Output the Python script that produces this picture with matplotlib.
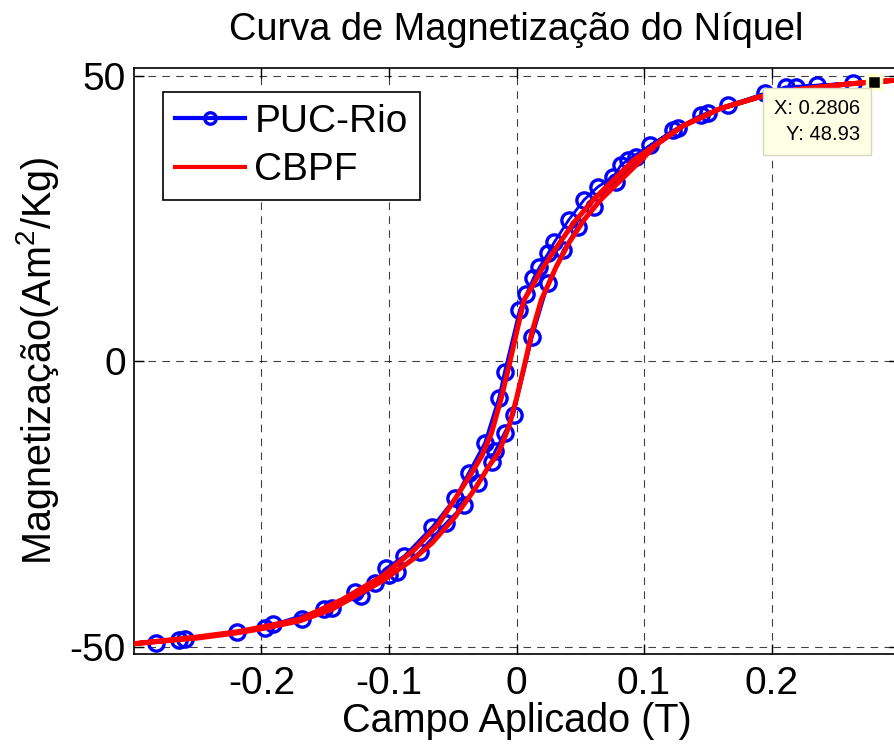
import numpy as np
import matplotlib
matplotlib.use('Agg')
import matplotlib.pyplot as plt

plt.rcParams['font.family'] = ['Liberation Sans', 'DejaVu Sans']
plt.rcParams['mathtext.fontset'] = 'custom'
plt.rcParams['mathtext.rm'] = 'Liberation Sans'
plt.rcParams['lines.scale_dashes'] = False

# PUC-Rio measurement (loop: ascending branch then descending branch)
puc_h = [-0.283, -0.260, -0.197, -0.168, -0.145, -0.122, -0.100, -0.094, -0.076,
         -0.055, -0.041, -0.030, -0.0195, -0.017, -0.0094, -0.0023, 0.0125, 0.025,
         0.0367, 0.048, 0.061, 0.078, 0.094, 0.105, 0.127, 0.150, 0.166, 0.195,
         0.219, 0.264,
         0.236, 0.211, 0.145, 0.123, 0.0875, 0.082, 0.076, 0.064, 0.053, 0.041,
         0.0297, 0.025, 0.018, 0.0133, 0.0078, 0.0023, -0.0094, -0.014, -0.025,
         -0.0375, -0.048, -0.066, -0.088, -0.102, -0.111, -0.127, -0.151, -0.191,
         -0.219, -0.265]
puc_m = [-49.3, -48.6, -46.8, -45.1, -43.2, -41.1, -37.4, -36.9, -33.4,
         -28.3, -25.1, -21.3, -17.6, -15.8, -12.5, -9.4, 4.3, 13.7,
         19.5, 23.6, 27.1, 31.4, 35.8, 37.9, 40.9, 43.5, 44.9, 47.0,
         48.1, 48.8,
         48.4, 48.1, 43.2, 40.5, 35.3, 34.4, 32.3, 30.6, 28.3, 24.8,
         20.9, 19.0, 16.5, 14.6, 11.8, 9.0, -1.8, -6.4, -14.3,
         -19.5, -23.9, -29.0, -34.1, -36.2, -38.8, -40.5, -43.4, -46.1,
         -47.5, -48.9]

# CBPF measurement (smooth loop)
cbpf_h = [-0.300, -0.250, -0.219, -0.198, -0.170, -0.145, -0.127, -0.105, -0.080,
          -0.066, -0.048, -0.033, -0.022, -0.014, -0.006, 0.000, 0.006, 0.012,
          0.0195, 0.025, 0.031, 0.041, 0.053, 0.066, 0.082, 0.098, 0.110, 0.130,
          0.160, 0.190, 0.220, 0.260, 0.300,
          0.260, 0.220, 0.190, 0.160, 0.130, 0.103, 0.092, 0.077, 0.061, 0.045,
          0.033, 0.0195, 0.012, 0.006, 0.000, -0.006, -0.012, -0.0195, -0.027,
          -0.035, -0.045, -0.061, -0.080, -0.105, -0.137, -0.170, -0.198, -0.219,
          -0.250, -0.300]
cbpf_m = [-49.5, -48.5, -47.6, -46.8, -45.5, -43.5, -41.2, -38.5, -34.5,
          -31.8, -27.2, -22.5, -18.5, -16.0, -11.5, -6.5, -0.9, 5.0,
          10.8, 13.5, 16.5, 20.7, 24.8, 28.3, 31.8, 35.3, 38.0, 41.2,
          44.3, 46.3, 47.6, 48.6, 49.3,
          48.6, 47.6, 46.3, 44.3, 41.2, 37.0, 35.3, 32.0, 28.5, 24.3,
          20.5, 16.0, 13.0, 10.8, 5.0, -0.9, -6.5, -12.5, -16.5,
          -19.5, -23.0, -28.5, -33.0, -37.6, -41.8, -45.2, -46.5, -47.4,
          -48.3, -49.5]

tip_x = 0.2806
tip_y = 48.93

W, H = 894, 753
fig = plt.figure(figsize=(W / 100, H / 100), dpi=100)
ax = fig.add_axes([134 / W, 1 - 654 / H, (899 - 134) / W, (654 - 68) / H])

ax.plot(puc_h, puc_m, '-o', color='blue', lw=2.0, ms=11, mew=2.4,
        mfc='none', label='PUC-Rio', zorder=3)
ax.plot(cbpf_h, cbpf_m, '-', color='red', lw=3.6, label='CBPF', zorder=4)

ax.set_xlim(-0.3, 0.3)
ax.set_ylim(-51.3, 51.4)
ax.set_xticks([-0.2, -0.1, 0, 0.1, 0.2])
ax.set_xticklabels(['-0.2', '-0.1', '0', '0.1', '0.2'])
ax.set_yticks([-50, 0, 50])
ax.set_yticklabels(['-50', '0', '50'])
ax.tick_params(direction='in', top=True, right=True, length=7, width=1,
               labelsize=28, pad=6)
ax.tick_params(axis='x', pad=9)
for s in ax.spines.values():
    s.set_linewidth(1.2)

ax.grid(True, color='k', linestyle=(0, (5.5, 4.5)), linewidth=0.8, alpha=0.75)
ax.set_axisbelow(True)

ax.set_title('Curva de Magnetização do Níquel', fontsize=27.4, pad=20)
ax.set_xlabel('Campo Aplicado (T)', fontsize=28.5, labelpad=0)
ax.set_ylabel('Magnetização(Am$^{\\mathregular{2}}$/Kg)', fontsize=28.5, labelpad=6)

leg = ax.legend(loc='upper left', bbox_to_anchor=(0.038, 0.959), borderaxespad=0,
                fontsize=28, handlelength=1.8, handletextpad=0.25, labelspacing=0.32,
                borderpad=0.3, fancybox=False, framealpha=1, edgecolor='k',
                markerscale=0.75)
leg.get_frame().set_linewidth(1.2)
for ln in leg.get_lines():
    ln.set_linewidth(3.0)

# data tip
ax.plot([tip_x], [tip_y], 's', color='k', ms=10, mec='#ffffcc', mew=2.5,
        zorder=6, clip_on=False)
ax.annotate('X: 0.2806\nY: 48.93', xy=(tip_x, tip_y), xycoords='data',
            xytext=(-14, -17), textcoords='offset pixels', ha='right', va='top',
            multialignment='right', fontsize=14.5, zorder=7, linespacing=1.45,
            bbox=dict(boxstyle='square,pad=0.55', fc='#ffffe6', ec='#d8d8c0', lw=1))

fig.savefig('out.png', dpi=100)
